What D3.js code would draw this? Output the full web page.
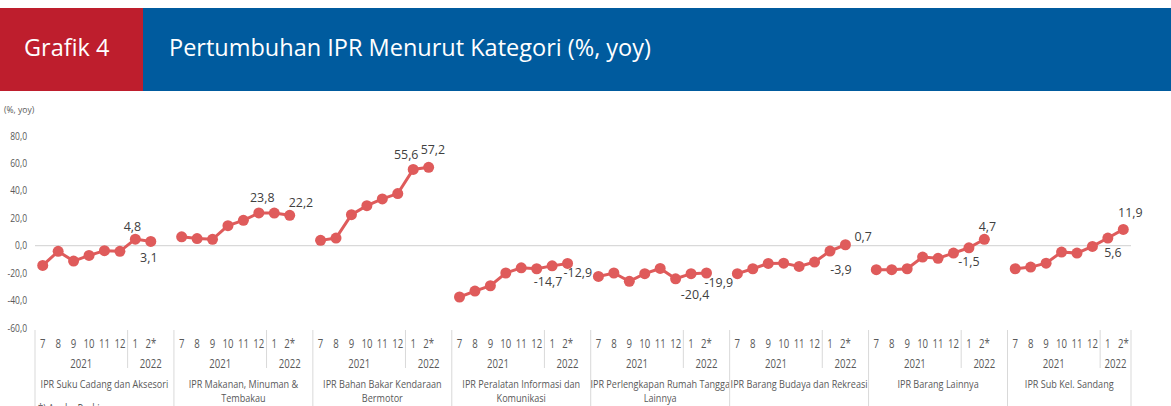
<!DOCTYPE html>
<html lang="en">
<head>
  <meta charset="UTF-8" />
  <title>Grafik 4 - Pertumbuhan IPR Menurut Kategori</title>
  <script src="https://d3js.org/d3.v7.min.js"></script>
  <style>
    body { margin: 0; background: #fff; font-family: "Open Sans", sans-serif; }
    svg { display: block; }
  </style>
</head>
<body>
<svg width="1171" height="406"></svg>

<script>
// ---- data ----
const groups = [
  ["IPR Suku Cadang dan Aksesori"],
  ["IPR Makanan, Minuman &", "Tembakau"],
  ["IPR Bahan Bakar Kendaraan", "Bermotor"],
  ["IPR Peralatan Informasi dan", "Komunikasi"],
  ["IPR Perlengkapan Rumah Tangga", "Lainnya"],
  ["IPR Barang Budaya dan Rekreasi"],
  ["IPR Barang Lainnya"],
  ["IPR  Sub Kel. Sandang"]
];
const months = ["7", "8", "9", "10", "11", "12", "1", "2*"];
const years = ["2021", "2022"];
const yTicks = [-60, -40, -20, 0, 20, 40, 60, 80];

const sukuCadang   = [-14.4, -4.1, -11.2, -7.1, -3.6, -4.1, 4.8, 3.1];
const makanan      = [6.5, 5.2, 4.7, 14.6, 18.5, 23.9, 23.8, 22.2];
const bahanBakar   = [3.9, 5.6, 22.6, 29.2, 34.1, 38.0, 55.6, 57.2];
const infoKom      = [-37.4, -33.1, -29.2, -19.9, -16.1, -16.8, -14.7, -12.9];
const rumahTangga  = [-22.4, -19.9, -26.0, -20.4, -16.6, -24.1, -20.4, -19.9];
const budaya       = [-20.4, -16.8, -12.9, -12.7, -15.1, -11.9, -3.9, 0.7];
const lainnya      = [-17.5, -17.5, -16.8, -8.3, -9.2, -5.4, -1.5, 4.7];
const sandang      = [-16.8, -15.6, -12.7, -4.6, -5.4, -0.5, 5.6, 11.9];
const series = [sukuCadang, makanan, bahanBakar, infoKom, rumahTangga, budaya, lainnya, sandang];

// label placement for the last two points of each group: [dx, dy, anchor]
const labelPlace = [
  [[-3, -8, "middle"], [-2, 21, "middle"]],
  [[-12, -11, "middle"], [-1, -8, "start"]],
  [[-7, -10, "middle"], [-8, -13, "start"]],
  [[-4, 20, "middle"], [-4, 14, "start"]],
  [[4, 25, "middle"], [-2, 14, "start"]],
  [[11, 23, "middle"], [9, -4, "start"]],
  [[0, 18, "middle"], [3, -8, "middle"]],
  [[5, 19, "middle"], [7, -12, "middle"]]
];

const locale = d3.formatLocale({ decimal: ",", thousands: ".", grouping: [3], currency: ["", ""], minus: "-" });
const fmt = locale.format(".1f");

const svg = d3.select("svg");

// condensed-looking text: squeeze horizontally around its anchor point
function label(parent, x, y, str, size, sx, anchor, color) {
  return parent.append("text")
    .attr("transform", `translate(${x},${y}) scale(${sx},1)`)
    .attr("text-anchor", anchor || "middle")
    .attr("fill", color || "#595959")
    .style("font-size", size + "px")
    .text(str);
}

// ---- header ----
svg.append("rect").attr("x", 0).attr("y", 8).attr("width", 143).attr("height", 83).attr("fill", "#be1e2d");
svg.append("rect").attr("x", 143).attr("y", 8).attr("width", 1028).attr("height", 83).attr("fill", "#005b9e");
svg.append("text").attr("x", 24).attr("y", 56).attr("fill", "#fff")
  .style("font-size", "23.5px").text("Grafik 4");
svg.append("text").attr("x", 169).attr("y", 56).attr("fill", "#fff")
  .style("font-size", "23.5px").text("Pertumbuhan IPR Menurut Kategori (%, yoy)");

// ---- scales ----
const keys = [];
groups.forEach((g, gi) => {
  months.forEach((m, mi) => keys.push(gi + "-" + mi));
  if (gi < groups.length - 1) keys.push(gi + "-gap");
});

const x = d3.scaleBand().domain(keys).range([35, 1131]).padding(0);
const y = d3.scaleLinear().domain([-60, 80]).range([328, 136]);
const cx = k => x(k) + x.bandwidth() / 2;

// y axis labels
const yAx = svg.append("g");
yTicks.forEach(t => {
  label(yAx, 27, y(t) + 3.5, fmt(t), 10, 0.85, "end");
});

label(svg, 4, 113, "(%, yoy)", 9.5, 0.9, "start");

// zero line
svg.append("line")
  .attr("x1", 35).attr("x2", 1131)
  .attr("y1", y(0)).attr("y2", y(0))
  .attr("stroke", "#d9d9d9").attr("stroke-width", 1.2);

// ---- category axis (multi level) ----
const cat = svg.append("g");
const sep = "#d9d9d9";

groups.forEach((g, gi) => {
  const gx0 = x(gi + "-0");
  const gx1 = gi < groups.length - 1 ? x(gi + "-gap") + x.bandwidth() : 1131;
  cat.append("line").attr("x1", gx0).attr("x2", gx0).attr("y1", 330).attr("y2", 406)
    .attr("stroke", sep);
  if (gi === groups.length - 1) {
    cat.append("line").attr("x1", gx1).attr("x2", gx1).attr("y1", 330).attr("y2", 406)
      .attr("stroke", sep);
  }
  const yx = x(gi + "-6");
  cat.append("line").attr("x1", yx).attr("x2", yx).attr("y1", 330).attr("y2", 368)
    .attr("stroke", sep);

  months.forEach((m, mi) => {
    label(cat, cx(gi + "-" + mi), 348, m, 12, 0.8);
  });
  label(cat, (gx0 + yx) / 2, 368, years[0], 12, 0.8);
  label(cat, (yx + gx1) / 2, 368, years[1], 12, 0.8);
  g.forEach((line, li) => {
    label(cat, (gx0 + gx1) / 2, 388 + li * 13.5, line, 11.5, 0.79);
  });
});

// footnote (cut off at the bottom)
label(svg, 38, 413, "*) Angka Perkiraan", 12, 0.78, "start");

// ---- lines and markers ----
const red = "#df5b5b";
const line = d3.line().x(d => d.x).y(d => d.y);

series.forEach((vals, gi) => {
  const pts = vals.map((v, mi) => ({ x: cx(gi + "-" + mi), y: y(v), v }));
  svg.append("path").datum(pts)
    .attr("d", line)
    .attr("fill", "none").attr("stroke", red).attr("stroke-width", 3);
  svg.selectAll(null).data(pts).enter().append("circle")
    .attr("cx", d => d.x).attr("cy", d => d.y).attr("r", 5.5).attr("fill", red);

  pts.slice(6).forEach((p, k) => {
    const [dx, dy, anchor] = labelPlace[gi][k];
    label(svg, p.x + dx, p.y + dy, fmt(p.v), 13.5, 0.92, anchor, "#404040");
  });
});
</script>
</body>
</html>
